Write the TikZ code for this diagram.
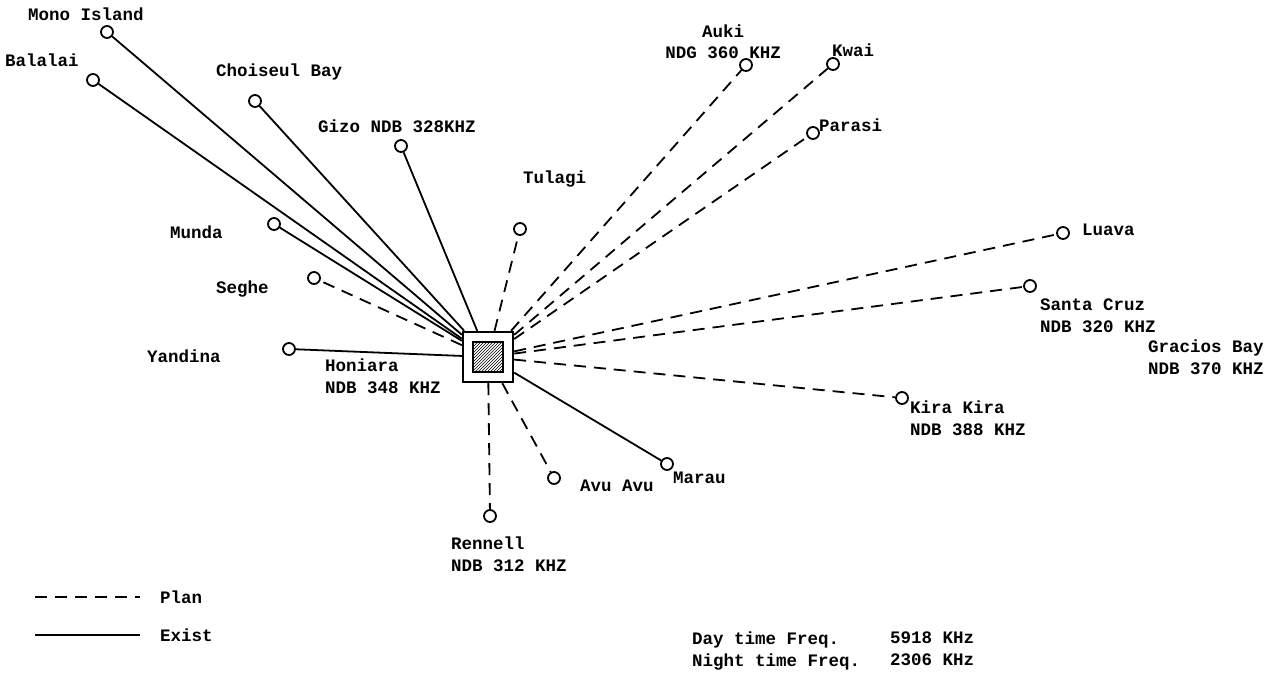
\documentclass[tikz,border=0pt]{standalone}
\usepackage{fontspec}
\setmonofont{Liberation Mono}
\usetikzlibrary{positioning,calc,patterns}
\tikzset{
  station/.style={circle,draw,line width=1.8pt,inner sep=0pt,minimum size=12pt},
  stnlabel/.style={font=\ttfamily\bfseries\fontsize{17.5}{21.5}\selectfont,align=left,inner sep=0pt},
  plan/.style={line width=1.8pt,dash pattern=on 12pt off 8pt},
  exist/.style={line width=1.8pt},
}
\newcommand{\stn}[3]{\node[station] (#1) at (#2,#3) {};}
\begin{document}
\begin{tikzpicture}[x=1pt,y=-1pt]
  \useasboundingbox (0,0) rectangle (1276,676);
  % hub at Honiara
  \node[draw,line width=2.4pt,minimum size=50pt,inner sep=0pt] (hub) at (488,357) {};
  \node[draw,line width=1.6pt,minimum size=30pt,inner sep=0pt,
        pattern=north east lines] (core) at (488,357) {};
  % stations
  \stn{mono}{107}{32}     \stn{balalai}{93}{80}   \stn{choiseul}{255}{101}
  \stn{gizo}{401}{146}    \stn{tulagi}{520}{229}  \stn{auki}{746}{65}
  \stn{kwai}{833}{64}     \stn{parasi}{813}{133}  \stn{luava}{1063}{233}
  \stn{cruz}{1030}{286}   \stn{kira}{902}{398}    \stn{marau}{667}{464}
  \stn{avu}{554}{478}     \stn{rennell}{490}{516} \stn{yandina}{289}{349}
  \stn{seghe}{314}{278}   \stn{munda}{274}{224}
  % links
  \foreach \s in {mono,balalai,choiseul,gizo,munda,yandina,marau}
    \draw[exist] (hub) -- (\s);
  \foreach \s in {seghe,tulagi,auki,kwai,parasi,luava,cruz,kira,avu,rennell}
    \draw[plan] (hub) -- (\s);
  % names
  \node[stnlabel,anchor=west] (lmono) at (28,14) {Mono Island};
  \node[stnlabel,anchor=west] (lbalalai) at (5,60) {Balalai};
  \node[stnlabel,anchor=west] (lchoiseul) at (216,72) {Choiseul Bay};
  \node[stnlabel,anchor=west] (lgizo) at (318,126) {Gizo NDB 328KHZ};
  \node[stnlabel,anchor=west] (ltulagi) at (523,179) {Tulagi};
  \node[stnlabel,anchor=south,align=center] (lauki) at (723,59) {Auki\\NDG 360 KHZ};
  \node[stnlabel,anchor=west] (lkwai) at (832,50) {Kwai};
  \node[stnlabel,anchor=west] (lparasi) at (819,125) {Parasi};
  \node[stnlabel,anchor=west] (lluava) at (1082,230) {Luava};
  \node[stnlabel,anchor=north west] (lcruz) at (1040,299) {Santa Cruz\\NDB 320 KHZ};
  \node[stnlabel,anchor=north west] (lgracios) at (1148,340) {Gracios Bay\\NDB 370 KHZ};
  \node[stnlabel,anchor=north west] (lkira) at (910,401) {Kira Kira\\NDB 388 KHZ};
  \node[stnlabel,anchor=west] (lmarau) at (673,478) {Marau};
  \node[stnlabel,anchor=west] (lavu) at (580,486) {Avu Avu};
  \node[stnlabel,anchor=north west] (lrennell) at (451,537) {Rennell\\NDB 312 KHZ};
  \node[stnlabel,anchor=west] (lyandina) at (147,356) {Yandina};
  \node[stnlabel,anchor=north west] (lhoniara) at (325,359) {Honiara\\NDB 348 KHZ};
  \node[stnlabel,anchor=west] (lseghe) at (216,289) {Seghe};
  \node[stnlabel,anchor=west] (lmunda) at (170,232) {Munda};
  % legend
  \coordinate (pa) at (35,597); \coordinate (pb) at (140,597);
  \coordinate (ea) at (35,635); \coordinate (eb) at (140,635);
  \draw[plan] (pa) -- (pb);
  \draw[exist] (ea) -- (eb);
  \node[stnlabel,anchor=west] (lplan) at (160,597) {Plan};
  \node[stnlabel,anchor=west] (lexist) at (160,635) {Exist};
  % frequencies
  \node[stnlabel,anchor=north west] (lfreq) at (692,632)
    {Day time Freq.\\Night time Freq.};
  \node[stnlabel,anchor=north west] (lkhz) at (890,632) {5918 KHz\\2306 KHz};
\end{tikzpicture}
\end{document}
